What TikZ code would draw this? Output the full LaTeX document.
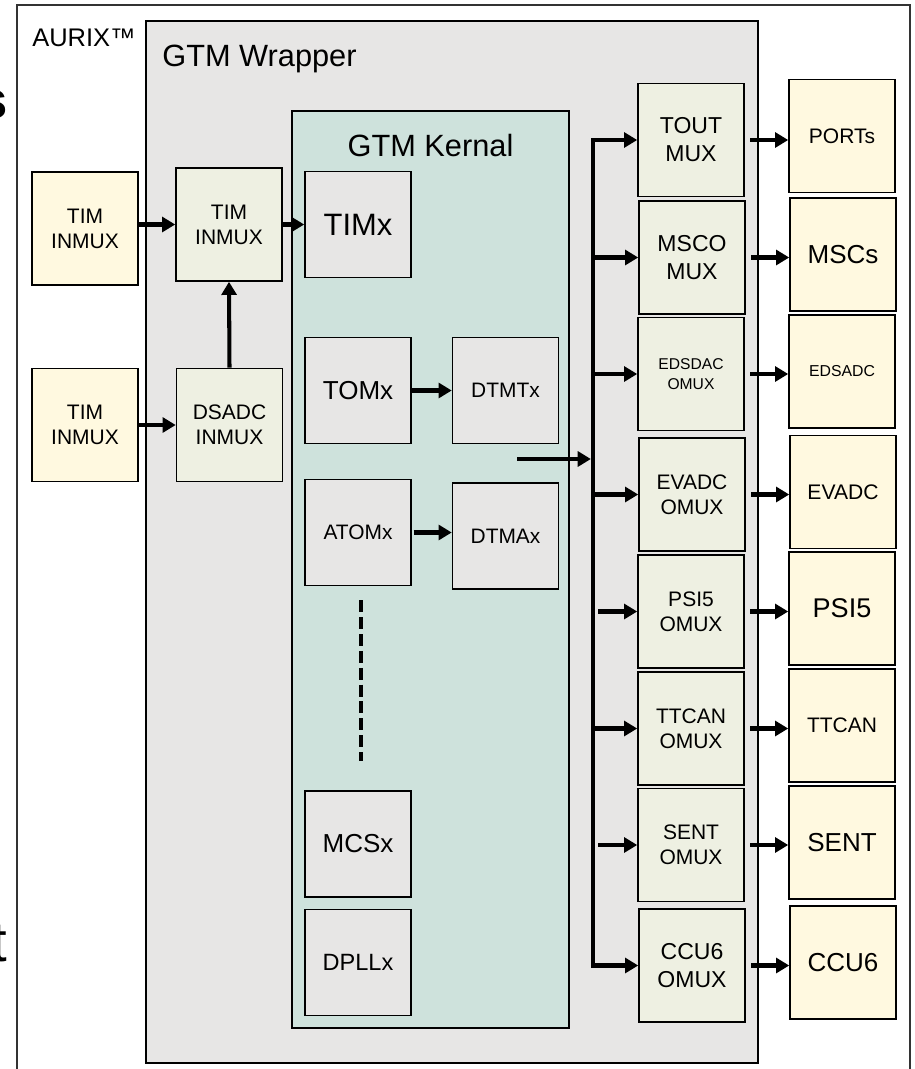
\documentclass[tikz,border=0pt]{standalone}
\usepackage{fontspec}
\setmainfont{Liberation Sans}
\usepackage{tikz}
\usetikzlibrary{arrows.meta}

\definecolor{extfill}{HTML}{FFF9E0}
\definecolor{muxfill}{HTML}{EEF0E2}
\definecolor{wrapfill}{HTML}{E7E6E5}
\definecolor{kernfill}{HTML}{CEE2DC}

\newcommand{\pxfont}[2]{\fontsize{#1}{#2}\selectfont}

\tikzset{
	blk/.style={draw, line width=0.9pt, inner sep=0pt, align=center, minimum width=2.12cm, minimum height=2.26cm},
	ext/.style={blk, fill=extfill},
	mux/.style={blk, fill=muxfill},
	core/.style={blk, fill=wrapfill, minimum height=2.12cm},
	sig/.style={line width=2.3pt, -{Triangle[length=7.5pt, width=8.5pt]}},
}

\begin{document}
\begin{tikzpicture}[x=0.02cm, y=-0.02cm]
			\useasboundingbox (0,0) rectangle (915,1069);

			% cut-off text left of the frame
			\node[anchor=base east, inner sep=0pt, font=\pxfont{30pt}{30pt}\bfseries] (cutS) at (8,118) {s};
			\node[anchor=base east, inner sep=0pt, font=\pxfont{32pt}{32pt}] (cutT) at (7,961) {t};

			% AURIX frame
			\draw[line width=0.6pt, draw=black!80] (17,5) rectangle (910,1100);
			\node[anchor=base west, inner sep=0pt, font=\pxfont{14.5pt}{16pt}] (aurix) at (32,46.5) {AURIX™};

			% GTM wrapper
			\draw[line width=0.7pt, fill=wrapfill] (146,21) rectangle (758,1063);
			\node[anchor=base west, inner sep=0pt, font=\pxfont{17.5pt}{20pt}] (wraplbl) at (162,66.5) {GTM Wrapper};

			% GTM kernal
			\draw[line width=0.9pt, fill=kernfill] (292,111) rectangle (569,1028);
			\node[anchor=base, inner sep=0pt, font=\pxfont{17.5pt}{20pt}] (kernlbl) at (430.5,156.5) {GTM Kernal};

			% inputs
			\node[ext, font=\pxfont{11.95pt}{14.2pt}] (tinA) at (85,228.5) {TIM\\INMUX};
			\node[ext, font=\pxfont{11.95pt}{14.2pt}] (tinB) at (85,425) {TIM\\INMUX};
			\node[mux, font=\pxfont{11.95pt}{14.2pt}] (timmux) at (229,224.5) {TIM\\INMUX};
			\node[mux, font=\pxfont{11.95pt}{14.2pt}] (dsmux) at (229.5,425) {DSADC\\INMUX};

			% kernal blocks
			\node[core, font=\pxfont{17.6pt}{20pt}] (timx) at (358,224.5) {TIMx};
			\node[core, font=\pxfont{14.8pt}{17pt}] (tomx) at (358,390.5) {TOMx};
			\node[core, font=\pxfont{11.9pt}{14pt}] (atomx) at (358,532.5) {ATOMx};
			\node[core, font=\pxfont{11.9pt}{14pt}] (dtmtx) at (505.5,390.5) {DTMTx};
			\node[core, font=\pxfont{11.9pt}{14pt}] (dtmax) at (505.5,536) {DTMAx};
			\node[core, font=\pxfont{14.8pt}{17pt}] (mcsx) at (358,844) {MCSx};
			\node[core, font=\pxfont{13.4pt}{16pt}] (dpllx) at (358,962.5) {DPLLx};

			% output muxes
			\node[mux, font=\pxfont{13.1pt}{15.9pt}] (toutmux) at (691,140) {TOUT\\MUX};
			\node[mux, font=\pxfont{13.1pt}{15.9pt}] (mscomux) at (692,257.5) {MSCO\\MUX};
			\node[mux, font=\pxfont{8.9pt}{11.4pt}] (edsomux) at (691,374) {EDSDAC\\OMUX};
			\node[mux, font=\pxfont{11.95pt}{14.2pt}] (evomux) at (692,494.5) {EVADC\\OMUX};
			\node[mux, font=\pxfont{11.95pt}{14.2pt}] (psiomux) at (691,611.5) {PSI5\\OMUX};
			\node[mux, font=\pxfont{11.95pt}{14.2pt}] (ttcomux) at (691,728.5) {TTCAN\\OMUX};
			\node[mux, font=\pxfont{11.95pt}{14.2pt}] (sentomux) at (691,845) {SENT\\OMUX};
			\node[mux, font=\pxfont{13.1pt}{15.9pt}] (ccuomux) at (692,965.5) {CCU6\\OMUX};

			% peripherals
			\node[ext, font=\pxfont{11.95pt}{14pt}] (ports) at (842,136) {PORTs};
			\node[ext, font=\pxfont{14.8pt}{17pt}] (mscs) at (843,254.5) {MSCs};
			\node[ext, font=\pxfont{9pt}{11pt}] (edsadc) at (842,371.5) {EDSADC};
			\node[ext, font=\pxfont{12pt}{14pt}] (evadc) at (843,492) {EVADC};
			\node[ext, font=\pxfont{15.4pt}{18pt}] (psi) at (842,608.5) {PSI5};
			\node[ext, font=\pxfont{11.95pt}{14pt}] (ttcan) at (842,725.5) {TTCAN};
			\node[ext, font=\pxfont{14.8pt}{17pt}] (sent) at (842,842.5) {SENT};
			\node[ext, font=\pxfont{14.8pt}{17pt}] (ccu) at (843,962.5) {CCU6};

			% input paths
			\draw[sig] (timmux.west -| tinA.east) -- (timmux.west);
			\draw[sig] (tinB.east) -- (dsmux.west);
			\draw[sig] (dsmux.north) -- (timmux.south);
			\draw[sig] (timmux.east) -- (timmux.east -| timx.west);
			\draw[sig] (tomx.east) -- (tomx.east -| dtmtx.west);
			\draw[sig, shorten <=1pt] (atomx.east) -- (atomx.east -| dtmax.west);

			% more channels
			\draw[line width=2pt, dash pattern=on 6.8pt off 2.8pt] ([xshift=0.06cm, yshift=-0.28cm]atomx.south) -- ([xshift=0.06cm, yshift=0.58cm]mcsx.north);

			% output bus
			\coordinate (bustop) at (593,140);
			\coordinate (kout) at (517,459);
			\draw[line width=2.3pt, line cap=rect] (bustop) -- (bustop |- ccuomux.west);
			\draw[sig, shorten >=1.2pt] (kout) -- (kout -| bustop);
			\draw[sig] (bustop) -- (toutmux.west);
			\draw[sig] (bustop |- mscomux.west) -- (mscomux.west);
			\draw[sig] (bustop |- edsomux.west) -- (edsomux.west);
			\draw[sig] (bustop |- evomux.west) -- (evomux.west);
			\draw[sig, shorten <=3pt] (bustop |- psiomux.west) -- (psiomux.west);
			\draw[sig] (bustop |- ttcomux.west) -- (ttcomux.west);
			\draw[sig, shorten <=3pt] (bustop |- sentomux.west) -- (sentomux.west);
			\draw[sig] (bustop |- ccuomux.west) -- (ccuomux.west);

			% mux to peripherals
			\draw[sig, shorten <=3pt] (toutmux.east) -- (toutmux.east -| ports.west);
			\draw[sig, shorten <=3pt] (mscomux.east) -- (mscomux.east -| mscs.west);
			\draw[sig, shorten <=3pt] (edsomux.east) -- (edsomux.east -| edsadc.west);
			\draw[sig, shorten <=3pt] (evomux.east) -- (evomux.east -| evadc.west);
			\draw[sig, shorten <=3pt] (psiomux.east) -- (psiomux.east -| psi.west);
			\draw[sig, shorten <=3pt] (ttcomux.east) -- (ttcomux.east -| ttcan.west);
			\draw[sig, shorten <=3pt] (sentomux.east) -- (sentomux.east -| sent.west);
			\draw[sig, shorten <=3pt] (ccuomux.east) -- (ccuomux.east -| ccu.west);
\end{tikzpicture}
\end{document}
